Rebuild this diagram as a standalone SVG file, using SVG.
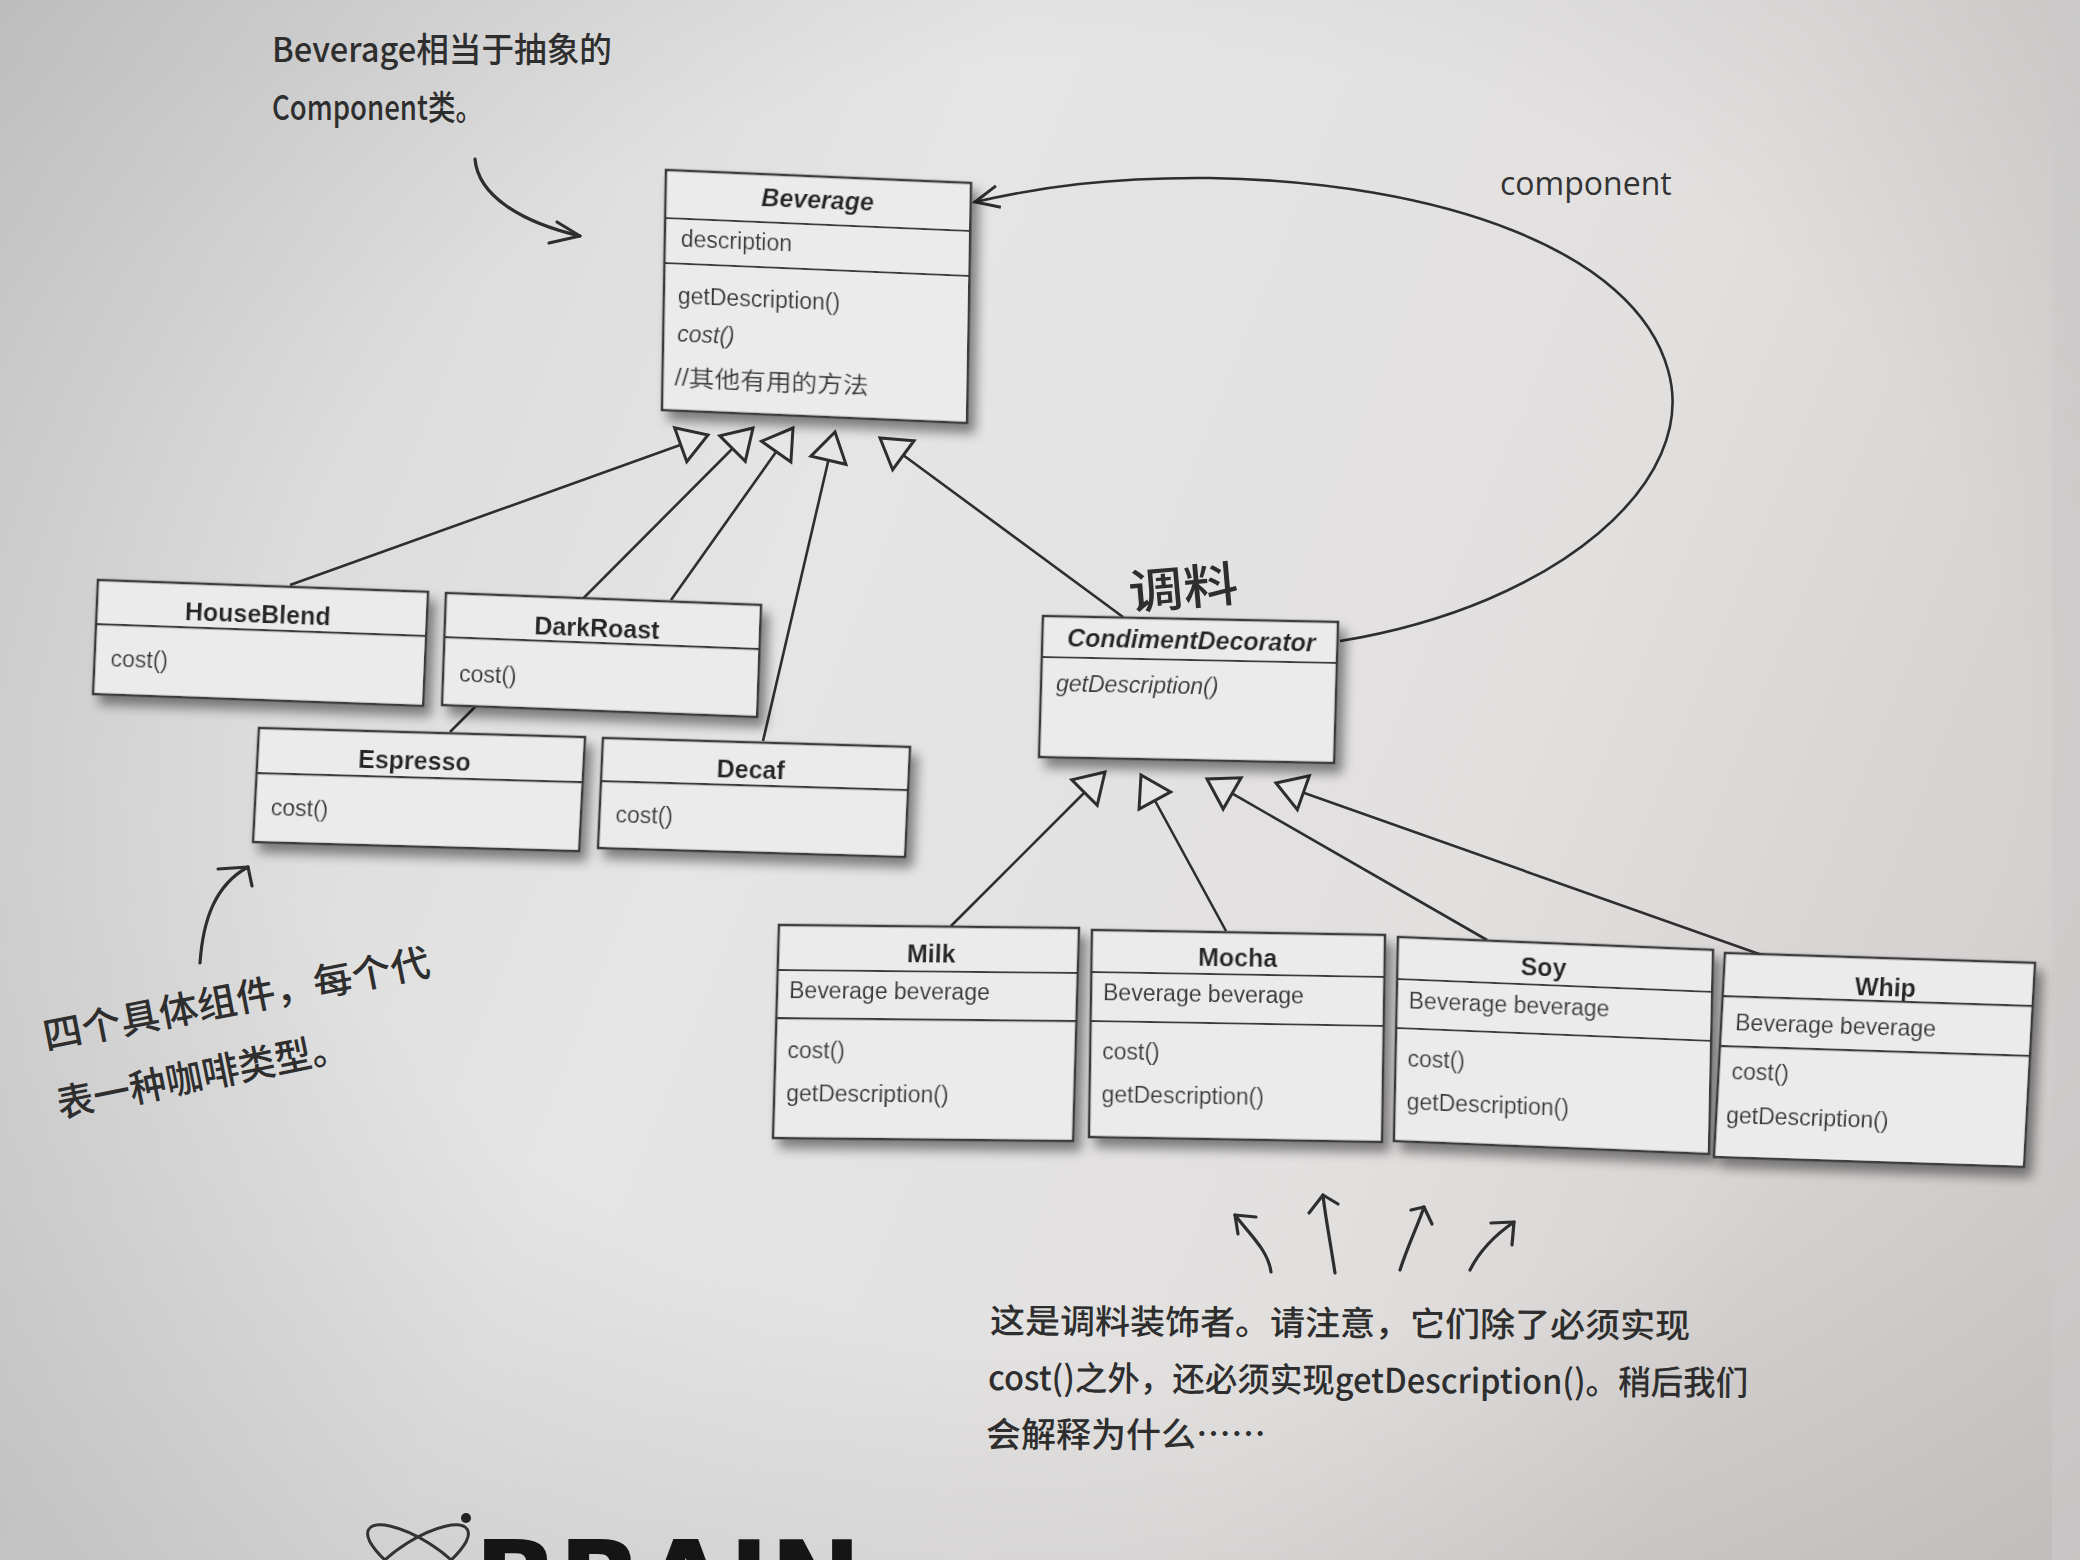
<svg xmlns="http://www.w3.org/2000/svg" width="2080" height="1560" viewBox="0 0 2080 1560">
<defs>
<linearGradient id="bg" x1="0" y1="0" x2="1" y2="0.3">
<stop offset="0" stop-color="#d3d3d3"/>
<stop offset="0.45" stop-color="#e5e5e5"/>
<stop offset="0.8" stop-color="#e2e0df"/>
<stop offset="1" stop-color="#d6d3d2"/>
</linearGradient>
<radialGradient id="vig" cx="0.55" cy="0.45" r="0.75">
<stop offset="0.55" stop-color="#000" stop-opacity="0"/>
<stop offset="1" stop-color="#000" stop-opacity="0.12"/>
</radialGradient>
<filter id="sh" x="-10%" y="-10%" width="130%" height="140%">
<feDropShadow dx="7" dy="9" stdDeviation="6" flood-color="#000" flood-opacity="0.45"/>
</filter>
<marker id="tri" markerUnits="userSpaceOnUse" markerWidth="44" markerHeight="44" viewBox="-34 -22 38 44" refX="0" refY="0" orient="auto">
<path d="M0,0 L-29,-18 L-29,18 Z" fill="#e6e6e6" stroke="#2e2e2e" stroke-width="3" stroke-linejoin="miter"/>
</marker>
<marker id="open" markerUnits="userSpaceOnUse" markerWidth="40" markerHeight="40" viewBox="-30 -20 34 40" refX="0" refY="0" orient="auto">
<path d="M-24,-11 L0,0 L-24,11" fill="none" stroke="#2e2e2e" stroke-width="3"/>
</marker>
<style>
.box{fill:#ebebeb;stroke:#3a3a3a;stroke-width:2.5}
.dv{stroke:#3a3a3a;stroke-width:2.2}
.t{font-family:"Liberation Sans",Arial,sans-serif;font-weight:bold;font-size:25px;fill:#262626;text-anchor:middle}
.ti{font-style:italic}
.m{font-family:"Liberation Sans",Arial,"Noto Sans CJK SC",sans-serif;font-size:23px;fill:#3a3a3a}
.mi{font-style:italic}
.conn{stroke:#2e2e2e;stroke-width:2.6;fill:none}
.hand{font-family:"Noto Sans CJK SC","Noto Sans",sans-serif;font-weight:500;fill:#2e2e2e}
.ha{stroke:#2e2e2e;stroke-width:3.2;fill:none;stroke-linecap:round;stroke-linejoin:round}
</style>
</defs>
<rect width="2080" height="1560" fill="url(#bg)"/>
<rect width="2080" height="1560" fill="url(#vig)"/>
<rect x="2052" y="0" width="28" height="1560" fill="#cbc9c9" opacity="0.6"/>

<g id="connectors">
<line class="conn" x1="290" y1="585" x2="708" y2="435" marker-end="url(#tri)"/>
<line class="conn" x1="450" y1="732" x2="753" y2="428" marker-end="url(#tri)"/>
<line class="conn" x1="671" y1="600" x2="793" y2="428" marker-end="url(#tri)"/>
<line class="conn" x1="763" y1="741" x2="835" y2="432" marker-end="url(#tri)"/>
<line class="conn" x1="1123" y1="617" x2="880" y2="438" marker-end="url(#tri)"/>
<line class="conn" x1="951" y1="926" x2="1105" y2="772" marker-end="url(#tri)"/>
<line class="conn" x1="1226" y1="931" x2="1141" y2="775" marker-end="url(#tri)"/>
<line class="conn" x1="1487" y1="940" x2="1207" y2="779" marker-end="url(#tri)"/>
<line class="conn" x1="1762" y1="955" x2="1276" y2="783" marker-end="url(#tri)"/>
<path class="conn" d="M1340,641 C1560,605 1700,480 1668,370 C1635,250 1440,182 1210,178 C1110,177 1040,187 975,202" marker-end="url(#open)"/>
<text x="1500" y="195" font-family="'Open Sans','Liberation Sans',sans-serif" font-size="32" fill="#333">component</text>
</g>

<g id="Beverage" transform="matrix(1,0.0426,-0.0167,1,666,170)" filter="url(#sh)">
<rect class="box" x="0" y="0" width="305" height="240"/>
<line class="dv" x1="0" y1="48" x2="305" y2="48"/>
<line class="dv" x1="0" y1="93" x2="305" y2="93"/>
<text class="t ti" x="152" y="32">Beverage</text>
<text class="m" x="16" y="76">description</text>
<text class="m" x="14" y="133">getDescription()</text>
<text class="m mi" x="14" y="171">cost()</text>
<text class="m" x="12" y="215" font-size="24" textLength="194" lengthAdjust="spacingAndGlyphs">//其他有用的方法</text>
</g>

<g id="HouseBlend" transform="matrix(1,0.036,-0.043,1,98,580)" filter="url(#sh)">
<rect class="box" x="0" y="0" width="330" height="114"/>
<line class="dv" x1="0" y1="44" x2="330" y2="44"/>
<text class="t" x="161" y="37">HouseBlend</text>
<text class="m" x="16" y="86">cost()</text>
</g>

<g id="DarkRoast" transform="matrix(1,0.038,-0.035,1,446,593)" filter="url(#sh)">
<rect class="box" x="0" y="0" width="315" height="112"/>
<line class="dv" x1="0" y1="44" x2="315" y2="44"/>
<text class="t" x="152" y="38">DarkRoast</text>
<text class="m" x="16" y="88">cost()</text>
</g>

<g id="Espresso" transform="matrix(1,0.028,-0.052,1,259,728)" filter="url(#sh)">
<rect class="box" x="0" y="0" width="326" height="114"/>
<line class="dv" x1="0" y1="45" x2="326" y2="45"/>
<text class="t" x="157" y="37">Espresso</text>
<text class="m" x="16" y="87">cost()</text>
</g>

<g id="Decaf" transform="matrix(1,0.0293,-0.045,1,603,738)" filter="url(#sh)">
<rect class="box" x="0" y="0" width="307" height="110"/>
<line class="dv" x1="0" y1="43" x2="307" y2="43"/>
<text class="t" x="149" y="36">Decaf</text>
<text class="m" x="16" y="84">cost()</text>
</g>

<g id="CondimentDecorator" transform="matrix(1,0.0203,-0.028,1,1043,616)" filter="url(#sh)">
<rect class="box" x="0" y="0" width="295" height="141"/>
<line class="dv" x1="0" y1="41" x2="295" y2="41"/>
<text class="t ti" x="149" y="30">CondimentDecorator</text>
<text class="m mi" x="15" y="75">getDescription()</text>
</g>

<g id="Milk" transform="matrix(1,0.01,-0.028,1,779,925)" filter="url(#sh)">
<rect class="box" x="0" y="0" width="300" height="213"/>
<line class="dv" x1="0" y1="45" x2="300" y2="45"/>
<line class="dv" x1="0" y1="93" x2="300" y2="93"/>
<text class="t" x="153" y="36">Milk</text>
<text class="m" x="12" y="73">Beverage beverage</text>
<text class="m" x="12" y="133">cost()</text>
<text class="m" x="12" y="176">getDescription()</text>
</g>

<g id="Mocha" transform="matrix(1,0.017,-0.0145,1,1092,930)" filter="url(#sh)">
<rect class="box" x="0" y="0" width="293" height="207"/>
<line class="dv" x1="0" y1="42" x2="293" y2="42"/>
<line class="dv" x1="0" y1="91" x2="293" y2="91"/>
<text class="t" x="146" y="34">Mocha</text>
<text class="m" x="12" y="70">Beverage beverage</text>
<text class="m" x="12" y="129">cost()</text>
<text class="m" x="12" y="172">getDescription()</text>
</g>

<g id="Soy" transform="matrix(1,0.041,-0.02,1,1398,937)" filter="url(#sh)">
<rect class="box" x="0" y="0" width="315" height="204"/>
<line class="dv" x1="0" y1="42" x2="315" y2="42"/>
<line class="dv" x1="0" y1="91" x2="315" y2="91"/>
<text class="t" x="146" y="33">Soy</text>
<text class="m" x="12" y="71">Beverage beverage</text>
<text class="m" x="12" y="129">cost()</text>
<text class="m" x="12" y="172">getDescription()</text>
</g>

<g id="Whip" transform="matrix(1,0.032,-0.054,1,1725,953)" filter="url(#sh)">
<rect class="box" x="0" y="0" width="310" height="204"/>
<line class="dv" x1="0" y1="43" x2="310" y2="43"/>
<line class="dv" x1="0" y1="93" x2="310" y2="93"/>
<text class="t" x="162" y="38">Whip</text>
<text class="m" x="14" y="77">Beverage beverage</text>
<text class="m" x="13" y="126">cost()</text>
<text class="m" x="10" y="170">getDescription()</text>
</g>

<g id="notes">
<text class="hand" x="272" y="62" font-size="34" textLength="340" lengthAdjust="spacingAndGlyphs">Beverage相当于抽象的</text>
<text class="hand" x="272" y="120" font-size="34" textLength="211" lengthAdjust="spacingAndGlyphs">Component类。</text>
<path class="ha" d="M475,159 C478,195 520,222 580,236"/>
<path class="ha" d="M557,222 L580,236 L549,243"/>

<text class="hand" x="1130" y="610" font-size="48" font-weight="normal" textLength="110" lengthAdjust="spacingAndGlyphs" transform="rotate(-5 1130 610)">调料</text>

<path class="ha" d="M200,963 C203,920 215,885 248,867"/>
<path class="ha" d="M218,869 L248,867 L252,886"/>
<text class="hand" x="46" y="1050" font-size="38" textLength="393" lengthAdjust="spacingAndGlyphs" transform="rotate(-11 46 1050)">四个具体组件，每个代</text>
<text class="hand" x="60" y="1118" font-size="38" textLength="296" lengthAdjust="spacingAndGlyphs" transform="rotate(-11.5 60 1118)">表一种咖啡类型。</text>

<path class="ha" d="M1271,1272 C1268,1250 1250,1235 1235,1215"/>
<path class="ha" d="M1256,1217 L1235,1215 L1238,1234"/>
<path class="ha" d="M1335,1273 C1330,1240 1325,1215 1323,1195"/>
<path class="ha" d="M1309,1213 L1323,1195 L1338,1204"/>
<path class="ha" d="M1400,1270 C1408,1245 1418,1225 1424,1207"/>
<path class="ha" d="M1411,1210 L1424,1207 L1432,1224"/>
<path class="ha" d="M1470,1270 C1480,1250 1495,1235 1514,1222"/>
<path class="ha" d="M1491,1223 L1514,1222 L1512,1245"/>

<text class="hand" x="990" y="1333" font-size="34" textLength="700" lengthAdjust="spacingAndGlyphs" transform="rotate(0.4 990 1333)">这是调料装饰者。请注意，它们除了必须实现</text>
<text class="hand" x="988" y="1390" font-size="34" textLength="760" lengthAdjust="spacingAndGlyphs" transform="rotate(0.4 988 1390)">cost()之外，还必须实现getDescription()。稍后我们</text>
<text class="hand" x="986" y="1447" font-size="34" textLength="280" lengthAdjust="spacingAndGlyphs">会解释为什么……</text>
</g>

<g id="brain">
<ellipse cx="418" cy="1560" rx="58" ry="20" transform="rotate(-32 418 1560)" fill="none" stroke="#333" stroke-width="3"/>
<ellipse cx="418" cy="1560" rx="58" ry="20" transform="rotate(32 418 1560)" fill="none" stroke="#333" stroke-width="3"/>
<circle cx="466" cy="1518" r="5" fill="#222"/>
<text x="474" y="1620" font-family="'DejaVu Sans',sans-serif" font-weight="bold" font-size="110" fill="#151515" textLength="388" lengthAdjust="spacingAndGlyphs">BRAIN</text>
</g>
</svg>
